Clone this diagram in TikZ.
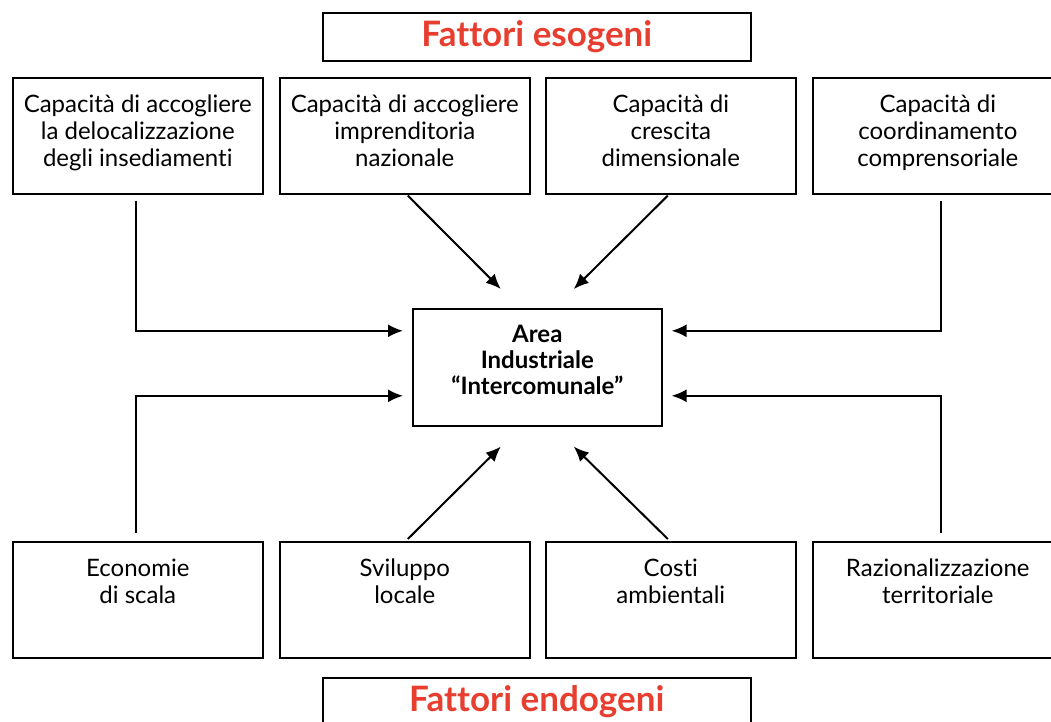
\documentclass[tikz,border=0pt]{standalone}
\usepackage{fontspec}
\setmainfont{Lato}[Ligatures={TeX,NoCommon}]
\usepackage{xcolor}
\usepackage{tikz}
\usetikzlibrary{arrows.meta,positioning}
\definecolor{titred}{RGB}{232,62,48}
\tikzstyle{fact}=[draw,rectangle,anchor=north west,inner sep=0,line width=1.6pt,font=\fontsize{24}{27}\selectfont]
\tikzstyle{titl}=[draw,rectangle,anchor=north west,minimum width=428pt,minimum height=48pt,line width=1.6pt,text=titred,font=\fontsize{35}{38}\selectfont\bfseries]
\tikzstyle{core}=[draw,rectangle,anchor=north west,align=center,minimum width=249pt,minimum height=117pt,line width=1.6pt,font=\fontsize{24}{26}\selectfont\bfseries]
\tikzstyle{infl}=[draw,line width=2pt,-{Latex[length=15pt,width=13pt]}]
\newcommand{\facttext}[1]{\parbox[t][116pt][t]{250pt}{\centering\rule{0pt}{35pt}#1}}

\begin{document}
\begin{tikzpicture}[x=1pt,y=-1pt]
\useasboundingbox (0,0) rectangle (1051,721);
\clip (0,0) rectangle (1051,721);

% % % exogenous
	\node[titl] (exo) at (322,12) {Fattori esogeni};

	\node[fact] (ex1) at (12,77)  {\facttext{Capacità di accogliere\\la delocalizzazione\\degli insediamenti}};
	\node[fact] (ex2) at (279,77) {\facttext{Capacità di accogliere\\imprenditoria\\nazionale}};
	\node[fact] (ex3) at (545,77) {\facttext{Capacità di\\crescita\\dimensionale}};
	\node[fact] (ex4) at (812,77) {\facttext{Capacità di\\coordinamento\\comprensoriale}};

% % % centre
	\node[core] (area) at (412,308) {Area\\Industriale\\“Intercomunale”\\[-12pt]};

% % % endogenous
	\node[fact] (en1) at (12,541)  {\facttext{Economie\\di scala}};
	\node[fact] (en2) at (279,541) {\facttext{Sviluppo\\locale}};
	\node[fact] (en3) at (545,541) {\facttext{Costi\\ambientali}};
	\node[fact] (en4) at (812,541) {\facttext{Razionalizzazione\\territoriale}};

	\node[titl] (endo) at (322,677) {Fattori endogeni};


	\path[infl] ([xshift=-2pt,yshift=-6pt]ex1.south) |- ([xshift=-9pt,yshift=36.5pt]area.west);
	\path[infl] ([xshift=3pt,yshift=-1pt]ex2.south) -- ([xshift=-36.5pt,yshift=19pt]area.north);
	\path[infl] ([xshift=-3pt,yshift=-1pt]ex3.south) -- ([xshift=36.5pt,yshift=19pt]area.north);
	\path[infl] ([xshift=3pt,yshift=-6pt]ex4.south) |- ([xshift=9pt,yshift=36.5pt]area.east);

	\path[infl] ([xshift=-2pt,yshift=8pt]en1.north) |- ([xshift=-9pt,yshift=-28.5pt]area.west);
	\path[infl] ([xshift=3pt,yshift=2pt]en2.north) -- ([xshift=-36.5pt,yshift=-20pt]area.south);
	\path[infl] ([xshift=-3pt,yshift=2pt]en3.north) -- ([xshift=36.5pt,yshift=-20pt]area.south);
	\path[infl] ([xshift=3pt,yshift=8pt]en4.north) |- ([xshift=9pt,yshift=-28.5pt]area.east);

\end{tikzpicture}
\end{document}
